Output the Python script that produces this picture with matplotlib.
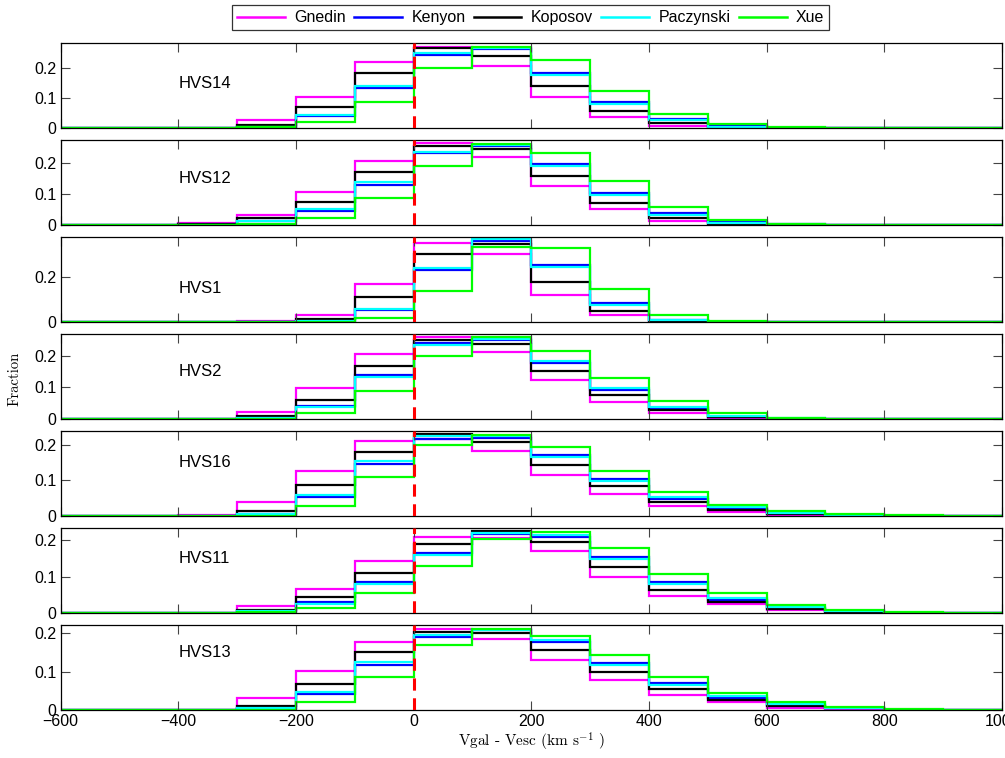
import numpy as np
import matplotlib
matplotlib.use('Agg')
from matplotlib import pyplot as plt
from matplotlib.lines import Line2D

plt.rcParams['font.family'] = ['Liberation Sans', 'DejaVu Sans']
plt.rcParams['mathtext.fontset'] = 'cm'

# Bin edges (km/s), 100 km/s wide.
EDGES = np.arange(-600, 1001, 100)

MODELS = ['Gnedin', 'Kenyon', 'Koposov', 'Paczynski', 'Xue']
COLORS = ['#ff00ff', '#0000ff', '#000000', '#00ffff', '#00ff00']

# Fractions per bin, rows in MODELS order.
HVS14 = [[0, 0, 0.001, 0.026, 0.105, 0.222, 0.272, 0.208, 0.105, 0.037, 0.008, 0.001, 0, 0, 0, 0],
         [0, 0, 0, 0.004, 0.039, 0.132, 0.244, 0.263, 0.185, 0.088, 0.030, 0.006, 0.001, 0, 0, 0],
         [0, 0, 0, 0.011, 0.069, 0.183, 0.266, 0.241, 0.141, 0.056, 0.017, 0.002, 0, 0, 0, 0],
         [0, 0, 0, 0.005, 0.044, 0.141, 0.252, 0.266, 0.178, 0.081, 0.026, 0.005, 0.001, 0, 0, 0],
         [0, 0, 0, 0.002, 0.019, 0.086, 0.202, 0.272, 0.226, 0.124, 0.048, 0.012, 0.004, 0.001, 0, 0]]

HVS12 = [[0, 0, 0.007, 0.032, 0.105, 0.206, 0.263, 0.220, 0.126, 0.051, 0.014, 0.003, 0.001, 0, 0, 0],
         [0, 0, 0.001, 0.012, 0.045, 0.129, 0.231, 0.255, 0.196, 0.102, 0.038, 0.010, 0.002, 0, 0, 0],
         [0, 0, 0.002, 0.022, 0.075, 0.171, 0.255, 0.244, 0.159, 0.072, 0.022, 0.004, 0.001, 0, 0, 0],
         [0, 0, 0.001, 0.014, 0.051, 0.138, 0.235, 0.256, 0.190, 0.097, 0.032, 0.007, 0.001, 0, 0, 0],
         [0, 0, 0, 0.003, 0.022, 0.088, 0.190, 0.260, 0.231, 0.140, 0.059, 0.016, 0.004, 0.001, 0, 0]]

HVS1 = [[0, 0, 0.001, 0.003, 0.030, 0.170, 0.350, 0.304, 0.120, 0.030, 0.004, 0, 0, 0, 0, 0],
        [0, 0, 0, 0.002, 0.004, 0.053, 0.230, 0.361, 0.253, 0.084, 0.008, 0.001, 0, 0, 0, 0],
        [0, 0, 0, 0.002, 0.012, 0.113, 0.304, 0.346, 0.177, 0.048, 0.005, 0.001, 0, 0, 0, 0],
        [0, 0, 0, 0.002, 0.005, 0.060, 0.241, 0.368, 0.244, 0.075, 0.008, 0.001, 0, 0, 0, 0],
        [0, 0, 0, 0, 0.002, 0.020, 0.138, 0.334, 0.328, 0.147, 0.033, 0.004, 0.001, 0, 0, 0]]

HVS2 = [[0, 0, 0.001, 0.022, 0.097, 0.205, 0.259, 0.211, 0.122, 0.054, 0.018, 0.003, 0.001, 0, 0, 0],
        [0, 0, 0, 0.003, 0.040, 0.139, 0.239, 0.248, 0.177, 0.090, 0.034, 0.007, 0.001, 0, 0, 0],
        [0, 0, 0, 0.009, 0.060, 0.168, 0.250, 0.235, 0.152, 0.076, 0.029, 0.006, 0.001, 0, 0, 0],
        [0, 0, 0, 0.003, 0.037, 0.131, 0.234, 0.252, 0.184, 0.097, 0.039, 0.011, 0.002, 0, 0, 0],
        [0, 0, 0, 0.001, 0.019, 0.088, 0.198, 0.259, 0.216, 0.129, 0.056, 0.019, 0.004, 0.001, 0, 0]]

HVS16 = [[0, 0, 0.002, 0.039, 0.127, 0.209, 0.215, 0.183, 0.115, 0.063, 0.028, 0.012, 0.004, 0.001, 0, 0],
         [0, 0, 0, 0.005, 0.052, 0.146, 0.216, 0.219, 0.171, 0.103, 0.049, 0.020, 0.008, 0.002, 0.001, 0],
         [0, 0, 0, 0.014, 0.086, 0.178, 0.230, 0.207, 0.143, 0.083, 0.040, 0.016, 0.005, 0.001, 0, 0],
         [0, 0, 0, 0.005, 0.059, 0.153, 0.223, 0.223, 0.164, 0.097, 0.052, 0.024, 0.009, 0.003, 0.001, 0],
         [0, 0, 0, 0.001, 0.027, 0.110, 0.200, 0.228, 0.192, 0.125, 0.068, 0.032, 0.013, 0.005, 0.002, 0]]

HVS11 = [[0, 0, 0.001, 0.019, 0.066, 0.144, 0.209, 0.205, 0.171, 0.100, 0.046, 0.024, 0.008, 0.003, 0.001, 0],
         [0, 0, 0, 0.005, 0.029, 0.086, 0.165, 0.216, 0.209, 0.154, 0.084, 0.037, 0.015, 0.005, 0.001, 0],
         [0, 0, 0, 0.009, 0.043, 0.111, 0.188, 0.225, 0.194, 0.126, 0.063, 0.029, 0.010, 0.003, 0.001, 0],
         [0, 0, 0, 0.005, 0.024, 0.080, 0.160, 0.220, 0.214, 0.148, 0.080, 0.040, 0.016, 0.005, 0.001, 0],
         [0, 0, 0, 0.002, 0.015, 0.054, 0.130, 0.202, 0.222, 0.179, 0.107, 0.054, 0.022, 0.008, 0.002, 0]]

HVS13 = [[0, 0, 0.001, 0.030, 0.102, 0.178, 0.211, 0.185, 0.130, 0.078, 0.039, 0.022, 0.006, 0.002, 0.001, 0],
         [0, 0, 0, 0.004, 0.042, 0.116, 0.190, 0.209, 0.177, 0.123, 0.070, 0.031, 0.013, 0.004, 0.001, 0],
         [0, 0, 0, 0.011, 0.068, 0.150, 0.204, 0.201, 0.155, 0.098, 0.055, 0.027, 0.010, 0.004, 0.001, 0],
         [0, 0, 0, 0.004, 0.048, 0.124, 0.196, 0.207, 0.181, 0.117, 0.066, 0.036, 0.016, 0.005, 0.001, 0],
         [0, 0, 0, 0.001, 0.020, 0.087, 0.170, 0.210, 0.192, 0.142, 0.087, 0.045, 0.020, 0.007, 0.002, 0]]

STARS = ['HVS14', 'HVS12', 'HVS1', 'HVS2', 'HVS16', 'HVS11', 'HVS13']
DATA = [HVS14, HVS12, HVS1, HVS2, HVS16, HVS11, HVS13]
Y_TOPS = [0.285, 0.274, 0.38, 0.269, 0.239, 0.234, 0.222]
Y_TICKS = [[0, 0.1, 0.2], [0, 0.1, 0.2], [0, 0.2], [0, 0.1, 0.2],
           [0, 0.1, 0.2], [0, 0.1, 0.2], [0, 0.1, 0.2]]

W, H = 1005, 758
FIG = plt.figure(figsize=(W / 100, H / 100), dpi=100)

# Panel geometry in pixels.
LEFT, RIGHT = 60.5, 1002
TOP0, PITCH, HEIGHT = 42.7, 97.0, 85.3

axes = []
for i, (star, vals, ytop, yt) in enumerate(zip(STARS, DATA, Y_TOPS, Y_TICKS)):
    top = TOP0 + i * PITCH
    ax = FIG.add_axes([LEFT / W, 1 - (top + HEIGHT) / H, (RIGHT - LEFT) / W, HEIGHT / H])
    for row, name, col in zip(vals, MODELS, COLORS):
        ax.stairs(row, EDGES, color=col, linewidth=1.6, label=name, baseline=None)
    # zero line
    ax.axvline(0, color='#ff0000', linewidth=2.2, linestyle=(0, (4, 2.5)), zorder=5)
    ax.set_xlim(-600, 1000)
    ax.set_ylim(0, ytop)
    ax.set_yticks(yt)
    ax.set_yticklabels(['0' if v == 0 else '%g' % v for v in yt])
    ax.set_xticks(np.arange(-600, 1001, 200))
    ax.tick_params(direction='in', length=6.5, width=0.8, color='#444444',
                   top=True, right=True, labelsize=11.5, pad=3)
    if i < len(STARS) - 1:
        ax.tick_params(labelbottom=False)
    for sp in ax.spines.values():
        sp.set_linewidth(0.9)
    ax.text(-400, 0.15, star, fontsize=12, va='center', ha='left')
    axes.append(ax)

axes[-1].set_xlabel(r'Vgal - Vesc (km s$^{-1}$ )', fontfamily='cmr10',
                    fontsize=11, labelpad=1)
FIG.text(0.015, 0.5, 'Fraction', fontfamily='cmr10', rotation=90, fontsize=10.5,
         va='center', ha='center')

handles = [Line2D([], [], color=c, linewidth=1.8) for c in COLORS]
leg = FIG.legend(handles, MODELS, loc='upper center', bbox_to_anchor=(0.528, 0.997),
                 ncol=5, fontsize=11.5, frameon=True, fancybox=False,
                 edgecolor='black', handlelength=3.0, handletextpad=0.6,
                 columnspacing=0.5, borderpad=0.3, borderaxespad=0.2)
leg.get_frame().set_linewidth(0.9)

plt.savefig('out.png', dpi=100)
